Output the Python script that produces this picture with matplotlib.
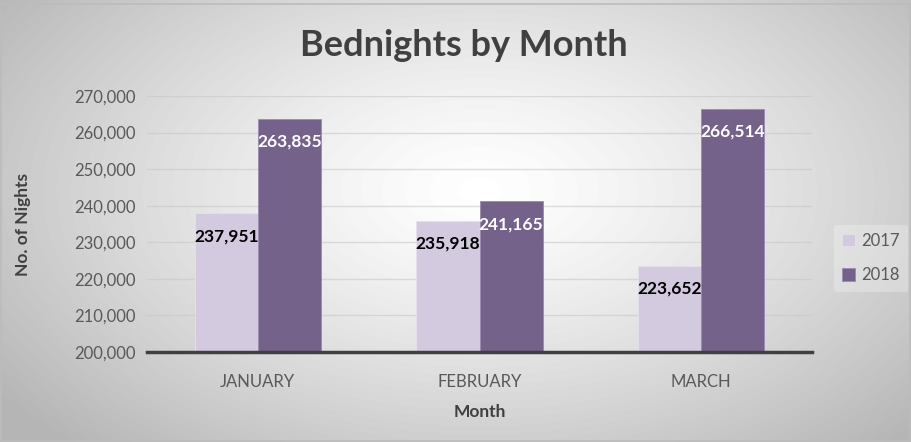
import numpy as np
import matplotlib
matplotlib.use('Agg')
from matplotlib import pyplot as plt
from matplotlib.ticker import FuncFormatter

plt.rcParams['font.family'] = ['Lato', 'DejaVu Sans']

# Data
months = ['JANUARY', 'FEBRUARY', 'MARCH']
years = ['2017', '2018']
nights_2017 = [237951, 235918, 223652]
nights_2018 = [263835, 241165, 266514]

light = '#d4cae0'
dark = '#74628b'
grey_txt = '#595959'

fig = plt.figure(figsize=(9.11, 4.42), dpi=100)

# radial grey background like the Excel chart style
bg = fig.add_axes([0, 0, 1, 1], zorder=-10)
yy, xx = np.mgrid[0:442, 0:911]
r = np.sqrt(((xx - 480) / 520.0) ** 2 + ((yy - 190) / 300.0) ** 2)
shade = 1 - 0.24 * np.clip(r, 0, 1.15) ** 1.3
bg.imshow(shade, cmap='gray', vmin=0, vmax=1, aspect='auto')
bg.axis('off')
bg.add_patch(plt.Rectangle((0.5, 3.5), 909, 437, fill=False, edgecolor='#bcbcbc', lw=1.2))

ax = fig.add_axes([147 / 911, 1 - 352 / 442, (812 - 147) / 911, (352 - 96) / 442])
ax.patch.set_alpha(0)

x = np.arange(len(months))
w = 0.285
b1 = ax.bar(x - w / 2, nights_2017, w, color=light, label=years[0], zorder=2,
            edgecolor='#e6e0ee', linewidth=0.6)
b2 = ax.bar(x + w / 2, nights_2018, w, color=dark, label=years[1], zorder=2,
            edgecolor='#9a8bb0', linewidth=0.6)

ax.set_ylim(200000, 270000)
ax.set_xlim(-0.5, 2.5)
ax.set_yticks(range(200000, 270001, 10000))
ax.yaxis.set_major_formatter(FuncFormatter(lambda v, p: f'{int(v):,}'))
ax.grid(axis='y', color='#c8c8c8', lw=1, zorder=3, alpha=0.6)
ax.set_xticks(x)
ax.set_xticklabels(months)
ax.tick_params(length=0, labelsize=12, colors=grey_txt, pad=8)
ax.tick_params(axis='x', pad=16)
for s in ['top', 'right', 'left']:
    ax.spines[s].set_visible(False)
ax.spines['bottom'].set_color('#404040')
ax.spines['bottom'].set_linewidth(2.5)
ax.spines['bottom'].set_zorder(4)

# value labels inside end of the bars
for bars, col in [(b1, 'black'), (b2, 'white')]:
    for rect in bars:
        h = rect.get_height()
        ax.annotate(f'{h:,}', (rect.get_x() + rect.get_width() / 2, h),
                    xytext=(0, -16.5), textcoords='offset points',
                    ha='center', va='center', fontsize=12.5, fontweight='bold',
                    color=col, zorder=5)

ax.set_xlabel('Month', fontsize=12.5, fontweight='bold', color='#404040', labelpad=10)
ax.set_ylabel('No. of Nights', fontsize=12.5, fontweight='bold', color='#404040', labelpad=31)

fig.text(464 / 911, 1 - 45 / 442, 'Bednights by Month', ha='center', va='center',
         fontsize=26, fontweight='bold', color='#404040')

leg = fig.legend(handles=[b1, b2], loc='center left', bbox_to_anchor=(0.915, 1 - 258 / 442),
                 frameon=True, fontsize=12, handlelength=0.8, handleheight=0.8,
                 handletextpad=0.35, labelspacing=1.1, borderpad=0.5, borderaxespad=0)
leg.get_frame().set_facecolor('white')
leg.get_frame().set_alpha(0.25)
leg.get_frame().set_edgecolor('none')
for t in leg.get_texts():
    t.set_color(grey_txt)

fig.savefig('out.png', dpi=100)
